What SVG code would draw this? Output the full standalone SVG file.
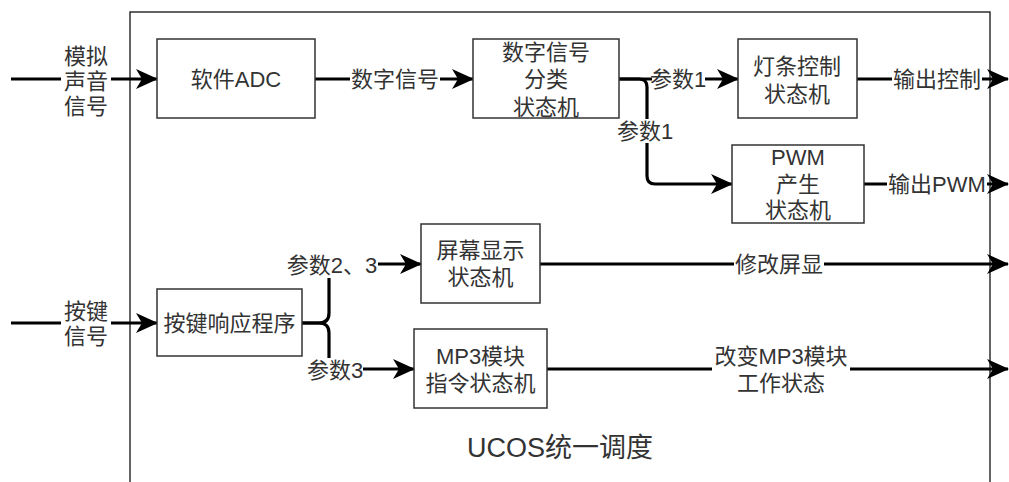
<svg xmlns="http://www.w3.org/2000/svg" width="1009" height="482" viewBox="0 0 1009 482">
<style>
.t{font-family:"Liberation Sans","Noto Sans CJK SC",sans-serif;font-size:22px;fill:#333;text-anchor:middle;dominant-baseline:central}
.box{fill:#fff;stroke:#333;stroke-width:1.5}
.e{fill:none;stroke:#000;stroke-width:3.2}
.lb{fill:#fff}
</style>
<defs>
<marker id="ah" markerUnits="userSpaceOnUse" viewBox="0 0 22 20" markerWidth="22" markerHeight="20" refX="21" refY="10" orient="auto">
<path d="M0,0 L22,10 L0,20 L6,10 z" fill="#000"/>
</marker>
</defs>
<rect width="1009" height="482" fill="#fff"/>
<g id="container">
<rect x="130" y="12" width="860" height="490" fill="none" stroke="#222" stroke-width="1.4"/>
<text class="t" x="560" y="448" style="font-size:27px">UCOS统一调度</text>
</g>
<g id="connectors">
<path class="e" d="M11,79 H157" marker-end="url(#ah)"/>
<path class="e" d="M315,79 H473" marker-end="url(#ah)"/>
<path class="e" d="M619,79 H738" marker-end="url(#ah)"/>
<path class="e" d="M619,79 H639 Q647,79 647,87 V176 Q647,184 655,184 H732" marker-end="url(#ah)"/>
<path class="e" d="M857,79 H1008" marker-end="url(#ah)"/>
<path class="e" d="M864,184 H1008" marker-end="url(#ah)"/>
<path class="e" d="M11,323 H157" marker-end="url(#ah)"/>
<path class="e" d="M302,323 H319 Q329,323 329,313 V264 H421" marker-end="url(#ah)"/>
<path class="e" d="M302,323 H319 Q329,323 329,333 V369 H414" marker-end="url(#ah)"/>
<path class="e" d="M540,264 H1008" marker-end="url(#ah)"/>
<path class="e" d="M547,369 H1008" marker-end="url(#ah)"/>
<g id="edge-labels">
<rect class="lb" x="61" y="44" width="50" height="74"/>
<text class="t" x="86" y="56">模拟</text>
<text class="t" x="86" y="81">声音</text>
<text class="t" x="86" y="106">信号</text>
<rect class="lb" x="350" y="67" width="90" height="24"/>
<text class="t" x="395" y="79">数字信号</text>
<rect class="lb" x="652" y="67" width="53" height="24"/>
<text class="t" x="678" y="79">参数1</text>
<rect class="lb" x="618" y="119" width="55" height="24"/>
<text class="t" x="645" y="131">参数1</text>
<rect class="lb" x="892" y="67" width="90" height="24"/>
<text class="t" x="937" y="79">输出控制</text>
<rect class="lb" x="887" y="172" width="100" height="24"/>
<text class="t" x="937" y="184">输出PWM</text>
<rect class="lb" x="61" y="299" width="50" height="50"/>
<text class="t" x="86" y="311">按键</text>
<text class="t" x="86" y="336">信号</text>
<rect class="lb" x="286" y="252" width="92" height="26"/>
<text class="t" x="332" y="265">参数2、3</text>
<rect class="lb" x="306" y="358" width="57" height="24"/>
<text class="t" x="335" y="370">参数3</text>
<rect class="lb" x="734" y="252" width="90" height="24"/>
<text class="t" x="779" y="264">修改屏显</text>
<rect class="lb" x="712" y="344" width="138" height="52"/>
<text class="t" x="781" y="356">改变MP3模块</text>
<text class="t" x="781" y="383">工作状态</text>
</g>
</g>
<g id="adc">
<rect class="box" x="157" y="39" width="158" height="79"/>
<text class="t" x="236" y="79">软件ADC</text>
</g>
<g id="classify">
<rect class="box" x="473" y="39" width="146" height="79"/>
<text class="t" x="546" y="52">数字信号</text>
<text class="t" x="546" y="79.5">分类</text>
<text class="t" x="546" y="107">状态机</text>
</g>
<g id="light">
<rect class="box" x="738" y="39" width="119" height="79"/>
<text class="t" x="797" y="66">灯条控制</text>
<text class="t" x="797" y="94">状态机</text>
</g>
<g id="pwm">
<rect class="box" x="732" y="145" width="132" height="78"/>
<text class="t" x="798" y="157">PWM</text>
<text class="t" x="798" y="184">产生</text>
<text class="t" x="798" y="210">状态机</text>
</g>
<g id="key">
<rect class="box" x="157" y="289" width="145" height="67"/>
<text class="t" x="229.5" y="323">按键响应程序</text>
</g>
<g id="screen">
<rect class="box" x="421" y="224" width="119" height="79"/>
<text class="t" x="480.5" y="250">屏幕显示</text>
<text class="t" x="480.5" y="277">状态机</text>
</g>
<g id="mp3">
<rect class="box" x="414" y="329" width="133" height="79"/>
<text class="t" x="480.5" y="356">MP3模块</text>
<text class="t" x="480.5" y="383">指令状态机</text>
</g>
</svg>
